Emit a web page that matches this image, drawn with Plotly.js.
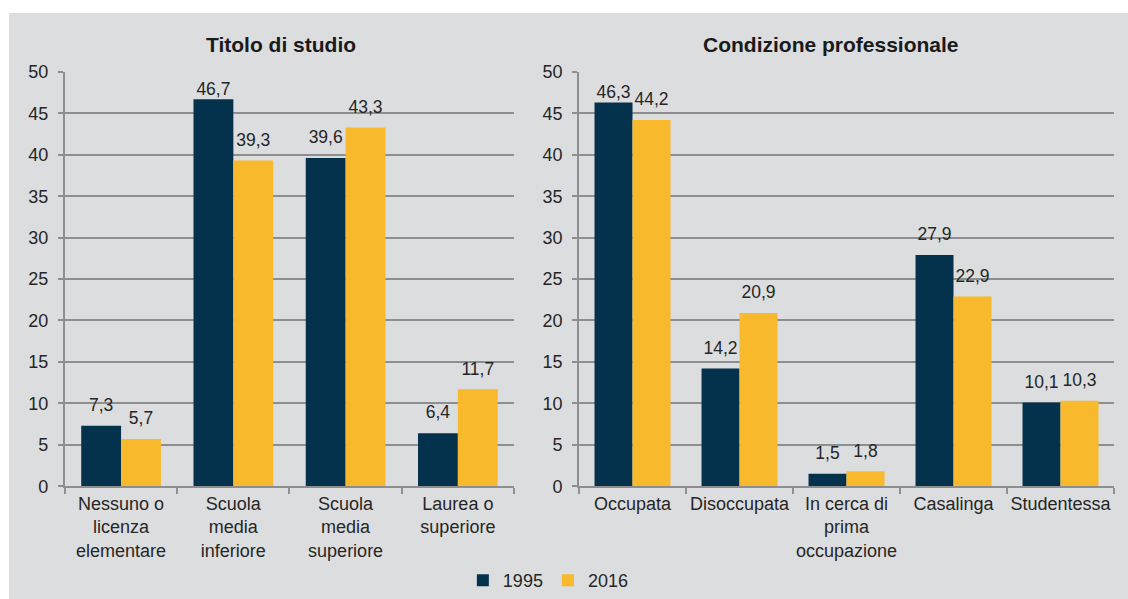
<!DOCTYPE html>
<html>
<head>
<meta charset="utf-8">
<script src="https://cdn.plot.ly/plotly-3.0.1.min.js"></script>
<style>
  html, body { margin: 0; padding: 0; background: #ffffff; width: 1128px; height: 599px; overflow: hidden; }
  #chart { position: absolute; left: 9px; top: 13px; width: 1119px; height: 586px; }
</style>
</head>
<body>
<div id="chart"></div>
<script>
// ---- Data ----
const studyCategories = ["Nessuno o<br>licenza<br>elementare", "Scuola<br>media<br>inferiore", "Scuola<br>media<br>superiore", "Laurea o<br>superiore"];
const study1995 = [7.3, 46.7, 39.6, 6.4];
const study2016 = [5.7, 39.3, 43.3, 11.7];

const jobCategories = ["Occupata", "Disoccupata", "In cerca di<br>prima<br>occupazione", "Casalinga", "Studentessa"];
const job1995 = [46.3, 14.2, 1.5, 27.9, 10.1];
const job2016 = [44.2, 20.9, 1.8, 22.9, 10.3];

const seriesNames = ["1995", "2016"];
const panelTitles = ["Titolo di studio", "Condizione professionale"];
const yTicks = [0, 5, 10, 15, 20, 25, 30, 35, 40, 45, 50];

// ---- Styles ----
const colDark = "#04324d";
const colYellow = "#f9b92c";
const bg = "#dcdddf";
const gridCol = "#8e8e8e";
const txtCol = "#262626";
const fontFam = "Liberation Sans, Arial, sans-serif";

function barTrace(x, y, name, color, xa, ya, showLegend) {
  return {
    type: "bar", x: x, y: y, name: name, xaxis: xa, yaxis: ya,
    marker: { color: color, line: { width: 0 } },
    offsetgroup: name, showlegend: showLegend, legendgroup: name,
    hoverinfo: "skip"
  };
}
// invisible marker size sets the label gap above each bar;
// labels close to the top of the plot sit nearer to the bar (kept inside the plot area)
function labelTrace(x, y, name, xa, ya) {
  return {
    type: "scatter", mode: "markers+text", x: x, y: y, xaxis: xa, yaxis: ya,
    offsetgroup: name, showlegend: false, hoverinfo: "skip",
    marker: { size: y.map(v => (v > 45 ? 0 : 15)), color: "rgba(0,0,0,0)", line: { width: 0 } },
    texttemplate: "%{y:.1f}", textposition: "top center",
    textfont: { family: fontFam, size: 17.5, color: txtCol },
    cliponaxis: false
  };
}

const data = [
  barTrace(studyCategories, study1995, seriesNames[0], colDark, "x", "y", true),
  barTrace(studyCategories, study2016, seriesNames[1], colYellow, "x", "y", true),
  barTrace(jobCategories, job1995, seriesNames[0], colDark, "x2", "y2", false),
  barTrace(jobCategories, job2016, seriesNames[1], colYellow, "x2", "y2", false),
  labelTrace(studyCategories, study1995, seriesNames[0], "x", "y"),
  labelTrace(studyCategories, study2016, seriesNames[1], "x", "y"),
  labelTrace(jobCategories, job1995, seriesNames[0], "x2", "y2"),
  labelTrace(jobCategories, job2016, seriesNames[1], "x2", "y2")
];

const xBase = {
  type: "category", showgrid: false, showline: true, linecolor: gridCol, linewidth: 2,
  ticks: "outside", tickson: "boundaries", ticklen: 6, tickcolor: gridCol, tickwidth: 2,
  tickangle: 0, automargin: false,
  tickfont: { family: fontFam, size: 18, color: txtCol }, zeroline: false, fixedrange: true
};
const yBase = {
  range: [0, 50], tickvals: yTicks, showgrid: true, gridcolor: gridCol, gridwidth: 2,
  showline: true, linecolor: gridCol, linewidth: 2, ticks: "outside", ticklen: 5,
  tickcolor: gridCol, tickwidth: 2, zeroline: false, ticklabelstandoff: 6,
  tickfont: { family: fontFam, size: 18, color: txtCol }, fixedrange: true
};

const layout = {
  width: 1119, height: 586,
  paper_bgcolor: bg, plot_bgcolor: bg,
  margin: { l: 0, r: 0, t: 0, b: 0 },
  separators: ",.",
  barmode: "group", bargap: 0.29, bargroupgap: 0,
  scattermode: "group", scattergap: 0.29,
  font: { family: fontFam, color: txtCol },
  xaxis: Object.assign({}, xBase, { domain: [0.0500, 0.4513], anchor: "y" }),
  yaxis: Object.assign({}, yBase, { domain: [0.1911, 0.8993], anchor: "x" }),
  xaxis2: Object.assign({}, xBase, { domain: [0.5094, 0.9875], anchor: "y2" }),
  yaxis2: Object.assign({}, yBase, { domain: [0.1911, 0.8993], anchor: "x2" }),
  legend: {
    orientation: "h", x: 0.482, xanchor: "center", y: 0.03, yanchor: "middle",
    font: { family: fontFam, size: 18, color: txtCol }, bgcolor: "rgba(0,0,0,0)",
    itemwidth: 30, tracegroupgap: 0
  },
  annotations: [
    { text: "<b>" + panelTitles[0] + "</b>", xref: "paper", yref: "paper", x: 0.243, y: 0.946,
      xanchor: "center", yanchor: "middle", showarrow: false,
      font: { family: fontFam, size: 21, color: "#1a1a1a" } },
    { text: "<b>" + panelTitles[1] + "</b>", xref: "paper", yref: "paper", x: 0.735, y: 0.946,
      xanchor: "center", yanchor: "middle", showarrow: false,
      font: { family: fontFam, size: 21, color: "#1a1a1a" } }
  ]
};

Plotly.newPlot("chart", data, layout, { staticPlot: true, displayModeBar: false });
</script>
</body>
</html>
